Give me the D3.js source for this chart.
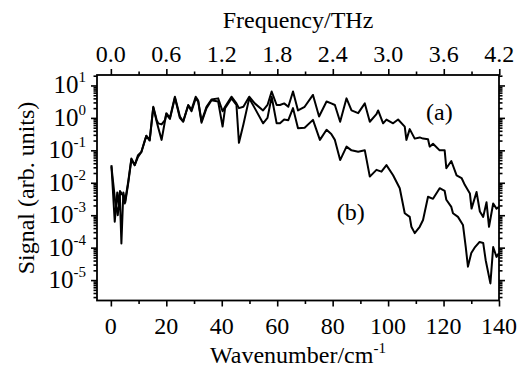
<!DOCTYPE html>
<html>
<head>
<meta charset="utf-8">
<script src="https://cdn.jsdelivr.net/npm/d3@7"></script>
<style>
  body { margin: 0; background: #fff; }
</style>
</head>
<body>
<svg id="chart" width="523" height="371" font-family="'Liberation Serif', 'DejaVu Serif', serif"></svg>
<script>
// curve (a)
const waveA = [0.2, 1.4, 2.3, 2.9, 3.3, 4.4, 5.0, 6.2, 7.4, 8.6, 9.8, 11, 12.3, 12.8, 14, 15.3, 16.5, 17.1, 18.3, 19.5,
  20, 21.3, 23.1, 24.9, 26.1, 27.9, 29.1, 30.6, 31.5, 32.7, 34.5, 36.3, 38.7, 40.3, 41.2, 43.5, 45.3, 46.2, 47.8, 49.9,
  51.9, 54.9, 56.5, 58, 59.8, 61, 62.5, 64, 65.7, 67.5, 69.9, 72.9, 75.1, 77.8, 79.5, 80.8, 82.7, 85, 86.8, 89.2,
  91.6, 93.4, 95.8, 96.4, 98.2, 99.4, 101.8, 103.6, 106, 106.6, 107.8, 109.6, 111.4, 112.6, 114.4, 115, 116.2, 118.6, 120.4, 121,
  122.8, 124.7, 126.5, 127.7, 129.5, 130.1, 131.9, 133.1, 134.3, 135.5, 136.4, 137.9, 139.1, 140];
const signalA = [3.5e-2, 6.3e-4, 5.0e-3, 2.0e-3, 5.6e-3, 4.0e-3, 2.3e-3, 1.0e-2, 5.6e-2, 3.5e-2, 7.1e-2, 8.9e-2, 0.21, 0.28, 0.21, 2.2, 0.87, 0.68, 0.63, 0.85,
  1.4, 1.0, 4.5, 1.1, 0.79, 2.5, 1.8, 4.5, 3.4, 0.79, 2.2, 3.7, 4.0, 1.6, 2.2, 4.5, 2.8, 2.0, 2.2, 4.5,
  2.8, 1.7, 2.5, 6.5, 2.5, 2.5, 2.8, 2.2, 6.5, 1.7, 2.2, 5.1, 1.1, 3.2, 2.8, 2.5, 0.76, 4.0, 1.7, 1.4,
  2.8, 0.76, 1.3, 1.7, 0.68, 0.89, 0.68, 0.89, 0.54, 0.21, 0.45, 0.23, 0.25, 0.23, 0.22, 0.13, 0.16, 0.10, 0.10, 2.8e-2,
  4.7e-2, 1.7e-2, 1.4e-2, 8.5e-3, 4.7e-3, 1.6e-3, 5.2e-3, 1.3e-3, 8.9e-4, 2.5e-3, 4.4e-4, 2.3e-3, 1.6e-3, 1.8e-3];

// curve (b)
const waveB = [0.2, 1.6, 2.5, 3.2, 3.8, 4.5, 5.2, 6.2, 7.4, 8.6, 9.8, 11, 12.3, 12.8, 14, 15.3, 16.5, 17.1, 18.3, 19.5,
  20, 21.3, 23.1, 24.9, 26.1, 27.9, 29.1, 30.6, 31.5, 32.7, 34.5, 36.3, 38.7, 40.3, 41.2, 43.5, 45.3, 46.2, 47.8, 49.9,
  51.9, 54.9, 56.5, 58, 59.8, 61, 62.5, 64, 65.7, 67.5, 69.9, 72.9, 75.4, 77.8, 79.5, 80.8, 82.7, 85, 86.8, 89.2,
  91.6, 93.4, 95.8, 97.6, 99.4, 101.8, 104.2, 106, 107.8, 108.4, 109.6, 111.4, 112.6, 114.4, 116.2, 118.6, 120.4, 121, 122.8, 123.4,
  125.2, 127, 128, 128.8, 130, 131.2, 133, 134.3, 135.2, 136.9, 137.9, 139.1, 140];
const signalB = [3.2e-2, 2.5e-3, 1.0e-3, 5.0e-3, 1.35e-4, 5.0e-3, 2.5e-3, 8.9e-3, 5.2e-2, 3.5e-2, 6.3e-2, 8.9e-2, 0.20, 0.28, 0.20, 2.1, 0.79, 0.50, 0.21, 0.79,
  1.3, 0.93, 4.2, 1.0, 0.76, 2.4, 1.6, 4.0, 3.2, 0.71, 2.0, 3.5, 3.2, 0.54, 2.0, 4.0, 2.5, 0.17, 0.63, 4.0,
  2.0, 0.68, 1.0, 4.5, 0.68, 0.68, 0.89, 0.85, 2.0, 0.48, 0.50, 0.87, 0.21, 0.43, 0.32, 0.21, 5.0e-2, 0.13, 0.10, 9.1e-2,
  0.10, 1.55e-2, 2.5e-2, 2.2e-2, 3.5e-2, 1.7e-2, 6.8e-3, 1.15e-3, 8.9e-4, 4.4e-4, 2.8e-4, 4.4e-4, 7.1e-4, 3.7e-3, 3.2e-3, 6.8e-3, 5.6e-3, 3.0e-3, 1.8e-3, 1.15e-3,
  8.9e-4, 5.0e-4, 1.05e-4, 2.6e-5, 6.8e-5, 1.0e-4, 1.5e-4, 1.4e-4, 4.1e-5, 7.9e-6, 1.05e-4, 5.2e-5, 6.8e-5];

const waveTicks = [0, 20, 40, 60, 80, 100, 120, 140];
const thzTicks = [0.0, 0.6, 1.2, 1.8, 2.4, 3.0, 3.6, 4.2];
const powTicks = [1, 0, -1, -2, -3, -4, -5];
const curveLabels = ["(a)", "(b)"];

const cmPerTHz = 33.356;
const mLeft = 97, mRight = 499, mTop = 75, mBottom = 300.5;

const svg = d3.select("#chart");

const x = d3.scaleLinear().domain([-5, 140]).range([mLeft, mRight]);
const xTop = d3.scaleLinear().domain([-5 / cmPerTHz, 140 / cmPerTHz]).range([mLeft, mRight]);
const y = d3.scaleLog().domain([2.35e-6, 21]).range([mBottom, mTop]);

// minor ticks
const waveMinor = d3.range(10, 141, 20);
const thzMinor = d3.range(0.3, 4.2, 0.6);
const logMinor = [];
for (let p = -6; p <= 1; p++) {
  for (let k = 2; k <= 9; k++) {
    const v = k * Math.pow(10, p);
    if (v >= 2.35e-6 && v <= 21) logMinor.push(v);
  }
}

function styleAxis(g) {
  g.select(".domain").remove();
  g.selectAll("line").attr("stroke", "#000").attr("stroke-width", 1.6);
  g.selectAll("text").remove();
}

// bottom axis
svg.append("g").attr("transform", `translate(0,${mBottom})`)
  .call(d3.axisBottom(x).tickValues(waveTicks).tickSize(6)).call(styleAxis);
svg.append("g").attr("transform", `translate(0,${mBottom})`)
  .call(d3.axisBottom(x).tickValues(waveMinor).tickSize(3.5)).call(styleAxis);
svg.append("g").selectAll("text").data(waveTicks).join("text")
  .attr("x", d => x(d)).attr("y", 334).attr("text-anchor", "middle")
  .attr("font-size", 24).text(d => d);

// top axis
svg.append("g").attr("transform", `translate(0,${mTop})`)
  .call(d3.axisTop(xTop).tickValues(thzTicks).tickSize(6)).call(styleAxis);
svg.append("g").attr("transform", `translate(0,${mTop})`)
  .call(d3.axisTop(xTop).tickValues(thzMinor).tickSize(3.5)).call(styleAxis);
svg.append("g").selectAll("text").data(thzTicks).join("text")
  .attr("x", d => xTop(d)).attr("y", 62).attr("text-anchor", "middle")
  .attr("font-size", 24).text(d => d.toFixed(1));

// left / right axes
const majors = powTicks.map(p => Math.pow(10, p));
svg.append("g").attr("transform", `translate(${mLeft},0)`)
  .call(d3.axisLeft(y).tickValues(majors).tickSize(6)).call(styleAxis);
svg.append("g").attr("transform", `translate(${mLeft},0)`)
  .call(d3.axisLeft(y).tickValues(logMinor).tickSize(3.5)).call(styleAxis);
svg.append("g").attr("transform", `translate(${mRight},0)`)
  .call(d3.axisRight(y).tickValues(majors).tickSize(6)).call(styleAxis);
svg.append("g").attr("transform", `translate(${mRight},0)`)
  .call(d3.axisRight(y).tickValues(logMinor).tickSize(3.5)).call(styleAxis);

const yl = svg.append("g").selectAll("text").data(powTicks).join("text")
  .attr("x", 86).attr("y", d => y(Math.pow(10, d)) + 8)
  .attr("text-anchor", "end").attr("font-size", 25);
yl.append("tspan").text("10");
yl.append("tspan").attr("dy", -11).attr("font-size", 15).text(d => d < 0 ? "-" + (-d) : d);

// frame
svg.append("rect").attr("x", mLeft).attr("y", mTop)
  .attr("width", mRight - mLeft).attr("height", mBottom - mTop)
  .attr("fill", "none").attr("stroke", "#000").attr("stroke-width", 1.8);

// curves
const line = d3.line().x(d => x(d[0])).y(d => y(d[1]));
[[waveA, signalA], [waveB, signalB]].forEach(([w, s]) => {
  svg.append("path").datum(d3.zip(w, s)).attr("d", line)
    .attr("fill", "none").attr("stroke", "#000").attr("stroke-width", 2)
    .attr("stroke-linejoin", "round");
});

// curve labels
svg.append("text").attr("x", x(118.5)).attr("y", 120).attr("text-anchor", "middle")
  .attr("font-size", 24).text(curveLabels[0]);
svg.append("text").attr("x", x(86.5)).attr("y", 220).attr("text-anchor", "middle")
  .attr("font-size", 24).text(curveLabels[1]);

// axis titles
svg.append("text").attr("x", 298).attr("y", 28).attr("text-anchor", "middle")
  .attr("font-size", 24).text("Frequency/THz");
const xt = svg.append("text").attr("x", 298).attr("y", 363).attr("text-anchor", "middle")
  .attr("font-size", 24);
xt.append("tspan").text("Wavenumber/cm");
xt.append("tspan").attr("dy", -10).attr("font-size", 15).text("-1");
svg.append("text").attr("transform", "translate(34,188) rotate(-90)")
  .attr("text-anchor", "middle").attr("font-size", 24).text("Signal (arb. units)");
</script>
</body>
</html>
